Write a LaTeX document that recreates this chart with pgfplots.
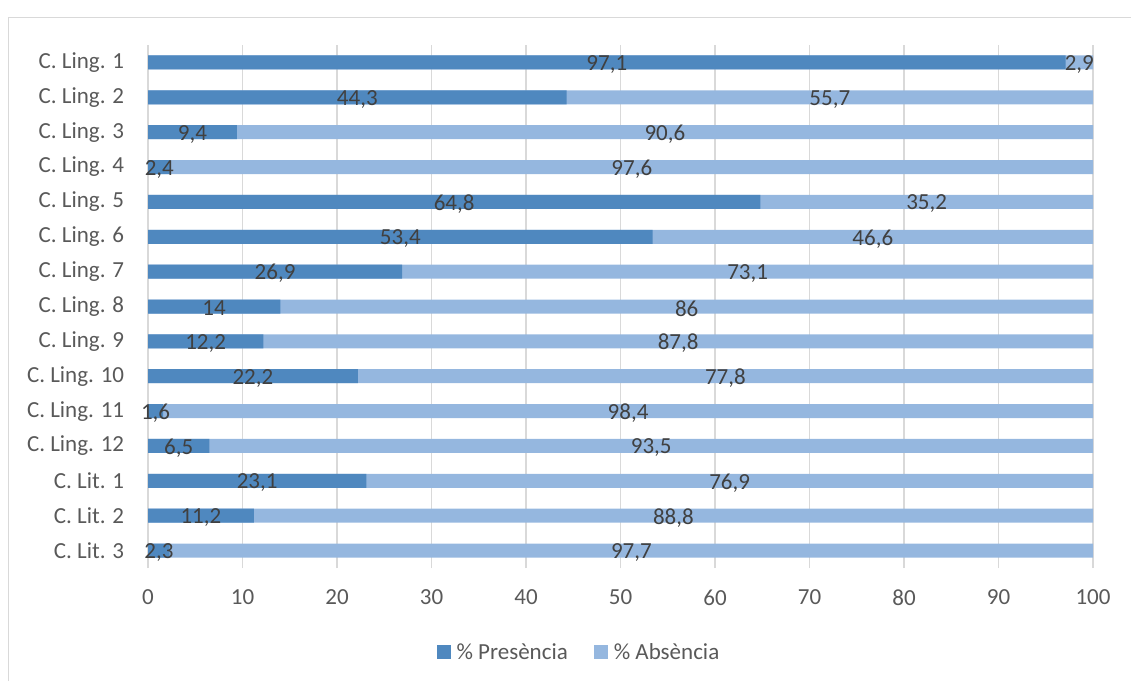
\documentclass[border=0pt]{standalone}
\usepackage{pgfplots}
\pgfplotsset{compat=1.18}
\usepackage{pgfplotstable}
\usepackage{fontspec}
\setmainfont{Carlito}

\definecolor{pres}{HTML}{4F88BF}
\definecolor{absn}{HTML}{95B7DF}
\definecolor{gridc}{HTML}{D9D9D9}
\definecolor{tickc}{HTML}{595959}
\definecolor{labc}{HTML}{404040}

% y: row position (15 = top row), p: % presence, a: % absence
\pgfplotstableread{
y  p     a
15 97.1  2.9
14 44.3  55.7
13 9.4   90.6
12 2.4   97.6
11 64.8  35.2
10 53.4  46.6
9  26.9  73.1
8  14    86
7  12.2  87.8
6  22.2  77.8
5  1.6   98.4
4  6.5   93.5
3  23.1  76.9
2  11.2  88.8
1  2.3   97.7
}\data

\begin{document}
\begin{tikzpicture}
\path[use as bounding box] (0pt,0pt) rectangle (1131pt,-681pt);
\draw[gridc, line width=1pt] (8pt,-681pt) -- (8pt,-17pt) -- (1131pt,-17pt);
\begin{axis}[
  at={(148pt,-568pt)}, anchor=south west,
  scale only axis, width=945pt, height=523pt,
  xmin=0, xmax=100, ymin=0.5, ymax=15.5,
  xtick={0,10,...,100},
  ytick={1,...,15},
  yticklabels={C. Lit. 3, C. Lit. 2, C. Lit. 1, C. Ling. 12, C. Ling. 11, C. Ling. 10,
    C. Ling. 9, C. Ling. 8, C. Ling. 7, C. Ling. 6, C. Ling. 5, C. Ling. 4,
    C. Ling. 3, C. Ling. 2, C. Ling. 1},
  xmajorgrids, grid style={gridc, line width=1.3pt},
  axis line style={draw=none}, tick style={draw=none},
  tick label style={font=\fontsize{23}{26}\selectfont, text=tickc},
  xticklabel style={yshift=-18pt},
  yticklabel style={xshift=-16pt},
  /pgf/number format/.cd, use comma, 1000 sep={}, assume math mode=true,
  /pgfplots/.cd,
  xbar, bar width=14pt, bar shift=0pt,
  legend style={at={(0.456,-0.161)}, anchor=center, draw=none, fill=none,
    font=\fontsize{23}{26}\selectfont, text=tickc, legend columns=2,
    /tikz/every odd column/.append style={column sep=4pt},
    /tikz/every even column/.append style={column sep=24pt}},
  legend image code/.code={\path[#1, draw=none] (0pt,-7pt) rectangle (14pt,7pt);},
]
% full-length absence bar underneath, presence bar on top
\addplot[fill=absn, draw=none, forget plot] table[x expr=\thisrow{p}+\thisrow{a}, y=y] {\data};
\addplot[fill=pres, draw=none, forget plot] table[x=p, y=y] {\data};

% value labels centred in each segment
\addplot[only marks, mark=none, forget plot, nodes near coords, nodes near coords align=center,
  point meta=explicit,
  every node near coord/.append style={font=\fontsize{23}{26}\selectfont, text=labc, anchor=center, yshift=-2pt}]
  table[x expr=\thisrow{p}/2, y=y, meta=p] {\data};
\addplot[only marks, mark=none, forget plot, nodes near coords, nodes near coords align=center,
  point meta=explicit,
  every node near coord/.append style={font=\fontsize{23}{26}\selectfont, text=labc, anchor=center, yshift=-2pt}]
  table[x expr=\thisrow{p}+\thisrow{a}/2, y=y, meta=a] {\data};

\addlegendimage{fill=pres}
\addlegendentry{\% Presència}
\addlegendimage{fill=absn}
\addlegendentry{\% Absència}
\end{axis}
\end{tikzpicture}
\end{document}
